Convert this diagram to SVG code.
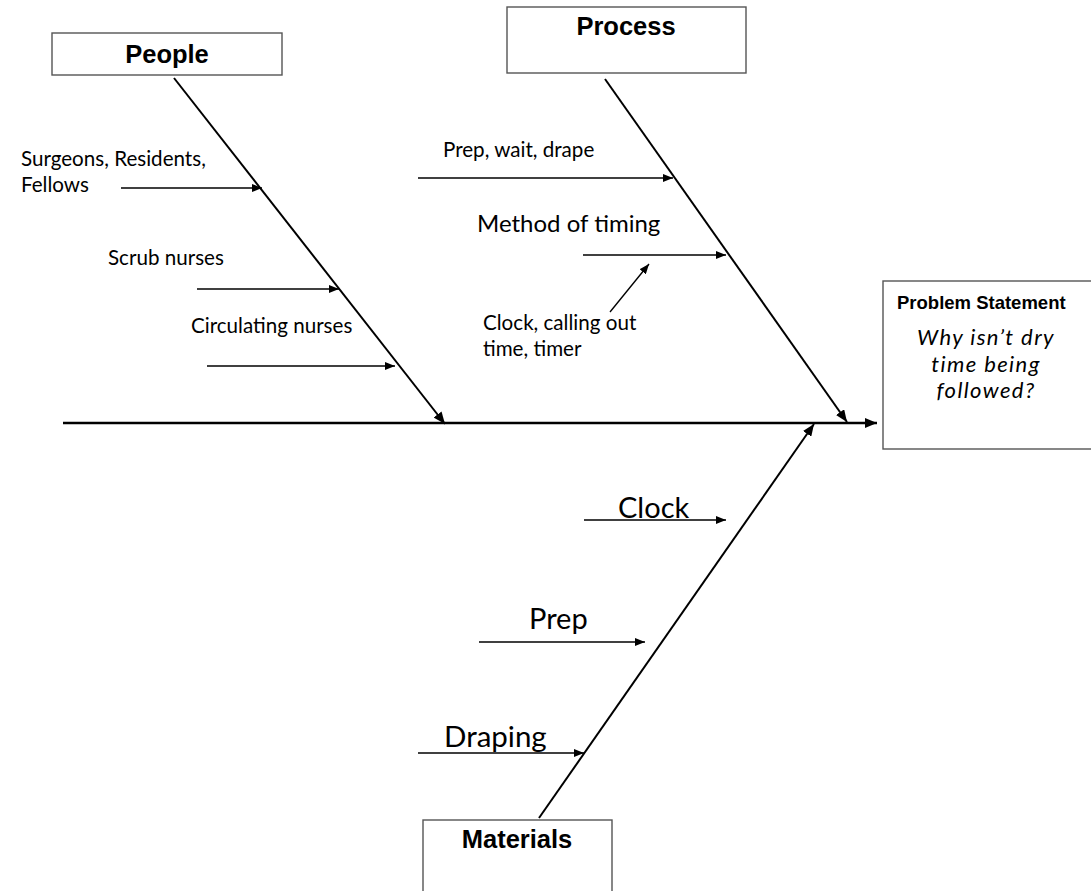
<svg xmlns="http://www.w3.org/2000/svg" width="1091" height="891" viewBox="0 0 1091 891">
  <style>
    .box { fill: #ffffff; stroke: #555555; stroke-width: 1.4; }
    .head { font-family: "Liberation Sans", Arial, sans-serif; font-weight: bold; fill: #000; }
    .lbl { font-family: Lato, "Liberation Sans", sans-serif; fill: #000; }
    .ask { font-family: Lato, "Liberation Sans", sans-serif; font-style: italic; font-size: 22px; letter-spacing: 1.4px; fill: #000; }
    .bone { stroke: #000; stroke-width: 2; fill: none; marker-end: url(#bigHead); }
    .spine { stroke: #000; stroke-width: 2.4; fill: none; marker-end: url(#bigHead); }
    .twig { stroke: #000; stroke-width: 1.3; fill: none; marker-end: url(#smallHead); }
  </style>
  <defs>
    <marker id="bigHead" markerUnits="userSpaceOnUse" viewBox="0 0 12 10" refX="12" refY="5" markerWidth="12" markerHeight="10" orient="auto">
      <path d="M0,0 L12,5 L0,10 Z" fill="#000"/>
    </marker>
    <marker id="smallHead" markerUnits="userSpaceOnUse" viewBox="0 0 10 8" refX="10" refY="4" markerWidth="10" markerHeight="8" orient="auto">
      <path d="M0,0 L10,4 L0,8 Z" fill="#000"/>
    </marker>
  </defs>

  <rect width="1091" height="891" fill="#ffffff"/>

  <!-- connectors: spine, category bones and cause arrows -->
  <g id="connectors">
    <line class="spine" x1="63" y1="423" x2="877" y2="423"/>
    <line class="bone" x1="174" y1="78" x2="445" y2="424"/>
    <line class="bone" x1="605" y1="79" x2="847" y2="422"/>
    <line class="bone" x1="539" y1="818" x2="814" y2="424"/>

    <line class="twig" x1="121" y1="188" x2="262" y2="188"/>
    <line class="twig" x1="197" y1="289" x2="339" y2="289"/>
    <line class="twig" x1="207" y1="366" x2="395" y2="366"/>

    <line class="twig" x1="418" y1="178" x2="673" y2="178"/>
    <line class="twig" x1="583" y1="255" x2="726" y2="255"/>
    <line class="twig" x1="610" y1="312" x2="649" y2="264"/>

    <line class="twig" x1="584" y1="520" x2="726" y2="520"/>
    <line class="twig" x1="479" y1="642" x2="645" y2="642"/>
    <line class="twig" x1="418" y1="753" x2="584" y2="753"/>
  </g>

  <!-- category boxes -->
  <g id="people">
    <rect class="box" x="52" y="33" width="230" height="42"/>
    <text class="head" x="167" y="63" font-size="25.5" text-anchor="middle">People</text>
  </g>
  <g id="process">
    <rect class="box" x="507" y="7" width="239" height="66"/>
    <text class="head" x="626" y="35" font-size="25.5" text-anchor="middle">Process</text>
  </g>
  <g id="materials">
    <rect class="box" x="423" y="820" width="189" height="80"/>
    <text class="head" x="517" y="848" font-size="25.5" text-anchor="middle">Materials</text>
  </g>
  <g id="problem">
    <rect class="box" x="883" y="281" width="210" height="168"/>
    <text class="head" x="897" y="309" font-size="18.5">Problem Statement</text>
    <text class="ask" x="986" y="345" text-anchor="middle">Why isn’t dry</text>
    <text class="ask" x="986" y="371.5" text-anchor="middle">time being</text>
    <text class="ask" x="986" y="398" text-anchor="middle">followed?</text>
  </g>

  <!-- cause labels -->
  <g id="people-causes">
    <text class="lbl" x="21" y="166" font-size="20.6">Surgeons, Residents,</text>
    <text class="lbl" x="21" y="192" font-size="20.6">Fellows</text>
    <text class="lbl" x="108" y="265" font-size="20.6">Scrub nurses</text>
    <text class="lbl" x="191" y="333" font-size="20.6">Circulating nurses</text>
  </g>
  <g id="process-causes">
    <text class="lbl" x="443" y="157" font-size="20.6">Prep, wait, drape</text>
    <text class="lbl" x="477" y="232" font-size="24">Method of timing</text>
    <text class="lbl" x="483" y="330" font-size="20.6">Clock, calling out</text>
    <text class="lbl" x="483" y="356" font-size="20.6">time, timer</text>
  </g>
  <g id="materials-causes">
    <text class="lbl" x="618" y="518" font-size="29">Clock</text>
    <text class="lbl" x="529" y="629" font-size="29">Prep</text>
    <text class="lbl" x="444" y="747" font-size="29.5">Draping</text>
  </g>
</svg>
